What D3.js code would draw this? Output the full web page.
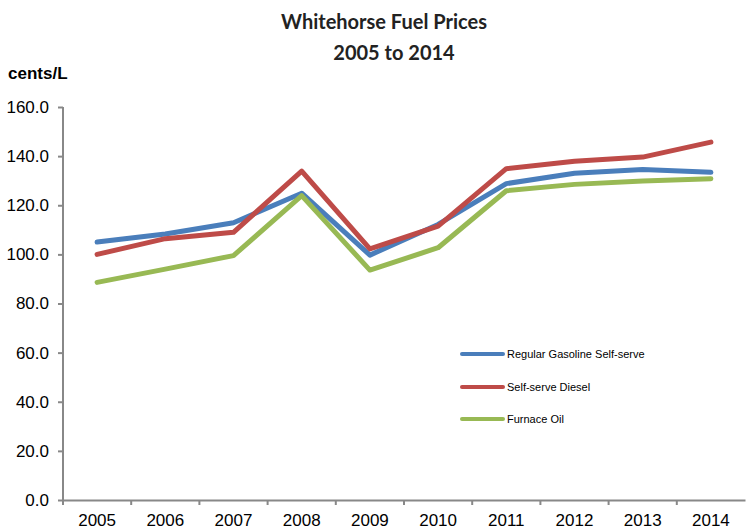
<!DOCTYPE html>
<html><head><meta charset="utf-8">
<script src="https://cdn.jsdelivr.net/npm/d3@7"></script>
<style>body{margin:0;background:#fff}svg{display:block}</style>
</head><body>
<svg id="c" width="747" height="531"></svg>
<script>
const years = ["2005","2006","2007","2008","2009","2010","2011","2012","2013","2014"];
const gasoline = [105.0,108.3,112.9,124.9,99.7,112.2,128.8,133.0,134.6,133.4];
const diesel = [100.0,106.4,109.0,133.9,102.2,111.5,134.9,137.9,139.6,145.7];
const furnaceOil = [88.6,94.0,99.5,123.9,93.6,102.7,125.9,128.5,129.9,130.8];
const seriesNames = ["Regular Gasoline Self-serve","Self-serve Diesel","Furnace Oil"];
const yTicks = [0,20,40,60,80,100,120,140,160];
const colors = ["#4A7EBB","#BE4B48","#98B954"];

const FONT = "Arial, 'Liberation Sans', sans-serif";
const svg = d3.select("#c");
const x = d3.scaleBand().domain(years).range([63,745]);
const y = d3.scaleLinear().domain([0,160]).range([500,107]);
const axisColor = "#888";

// title
svg.append("text").attr("x",384).attr("y",29).attr("text-anchor","middle")
  .attr("font-family","Lato, 'Open Sans', sans-serif").attr("font-weight",700)
  .attr("font-size",20).attr("fill","#222").text("Whitehorse Fuel Prices");
svg.append("text").attr("x",394).attr("y",60).attr("text-anchor","middle")
  .attr("font-family","Lato, 'Open Sans', sans-serif").attr("font-weight",700)
  .attr("font-size",20).attr("fill","#222").text("2005 to 2014");
svg.append("text").attr("x",8).attr("y",79)
  .attr("font-family",FONT).attr("font-weight","bold")
  .attr("font-size",17).attr("fill","#000").text("cents/L");

// y axis
const ya = svg.append("g").attr("transform","translate(63,0)")
  .call(d3.axisLeft(y).tickValues(yTicks).tickFormat(d3.format(".1f")).tickSize(5).tickPadding(9));
ya.attr("font-family",FONT);
ya.select(".domain").attr("stroke",axisColor).attr("stroke-width",2).attr("d","M0,107V500");
ya.selectAll(".tick line").attr("stroke",axisColor).attr("stroke-width",2);
ya.selectAll(".tick text").attr("font-family",FONT)
  .attr("font-size",17).attr("fill","#000");

// x axis
const xa = svg.append("g").attr("transform","translate(0,500)")
  .call(d3.axisBottom(x).tickSize(0).tickPadding(14));
xa.attr("font-family",FONT);
xa.select(".domain").attr("stroke",axisColor).attr("stroke-width",2);
xa.selectAll(".tick text").attr("font-family",FONT)
  .attr("font-size",17).attr("fill","#000");
// tick marks at band boundaries
xa.selectAll(".bt").data(years).enter().append("line").attr("class","bt")
  .attr("x1",d=>x(d)).attr("x2",d=>x(d)).attr("y1",0).attr("y2",5)
  .attr("stroke",axisColor).attr("stroke-width",2);

// lines
const data = [gasoline, diesel, furnaceOil];
const line = d3.line().x((d,i)=>x(years[i])+x.bandwidth()/2).y(d=>y(d));
data.forEach((s,k)=>{
  svg.append("path").attr("d",line(s)).attr("fill","none").attr("stroke",colors[k])
    .attr("stroke-width",5).attr("stroke-linecap","round").attr("stroke-linejoin","round");
});

// legend
const legY = [354,387,419];
seriesNames.forEach((n,k)=>{
  svg.append("line").attr("x1",462).attr("x2",503).attr("y1",legY[k]).attr("y2",legY[k])
    .attr("stroke",colors[k]).attr("stroke-width",4).attr("stroke-linecap","round");
  svg.append("text").attr("x",507).attr("y",legY[k]+4)
    .attr("font-family",FONT).attr("font-size",11)
    .attr("fill","#000").text(n);
});
</script>
</body></html>
